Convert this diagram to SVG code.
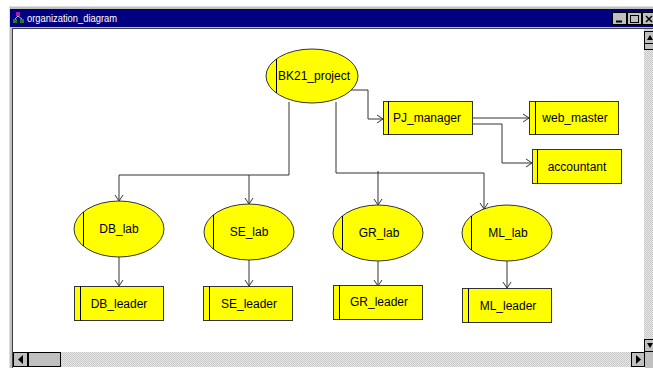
<svg xmlns="http://www.w3.org/2000/svg" width="653" height="368" viewBox="0 0 653 368">
<style>
.node{fill:#ffff00;stroke:#333;stroke-width:1}
.bar{stroke:#000;stroke-width:1}
.lbl{font-family:"Liberation Sans",Arial,sans-serif;font-size:12px;fill:#000;text-anchor:middle}
.conn{fill:none;stroke:#333;stroke-width:1}
.btn{fill:#c0c0c0;stroke:#000;stroke-width:1}
</style>
<defs>
<marker id="arr" markerWidth="8" markerHeight="10" refX="7" refY="5" orient="auto" markerUnits="userSpaceOnUse">
<path d="M1,1 L7,5 L1,9" fill="none" stroke="#333" stroke-width="1"/>
</marker>
<pattern id="chk" width="2" height="2" patternUnits="userSpaceOnUse">
<rect width="2" height="2" fill="#e8e8e8"/>
<rect width="1" height="1" fill="#c8c8c8"/>
<rect x="1" y="1" width="1" height="1" fill="#c8c8c8"/>
</pattern>
</defs>
<rect width="653" height="368" fill="#fff"/>
<!-- window frame -->
<g id="window">
<rect x="9.5" y="6.5" width="650" height="365" fill="#c0c0c0" stroke="#dfdfdf"/>
<rect x="10" y="9" width="643" height="18" fill="#000080"/>
<g id="icon">
<rect x="16" y="12" width="4" height="4" fill="#a020a0"/>
<rect x="13" y="19" width="4" height="4" fill="#208020"/>
<rect x="20" y="19" width="4" height="4" fill="#208020"/>
<path d="M18,16 L15,19 M18,16 L22,19" stroke="#c0c0c0" fill="none"/>
</g>
<text x="27" y="22" font-family="Liberation Sans,Arial,sans-serif" font-size="11" fill="#fff" textLength="90" lengthAdjust="spacingAndGlyphs">organization_diagram</text>
<rect x="612.5" y="12.5" width="14" height="12" class="btn"/>
<path d="M616,21.5 H622" stroke="#000" stroke-width="2"/>
<rect x="627.5" y="12.5" width="14" height="12" class="btn"/>
<rect x="630.5" y="15.5" width="8" height="7" fill="none" stroke="#000"/>
<rect x="642.5" y="12.5" width="14" height="12" class="btn"/>
<path d="M646,16 L652,22 M652,16 L646,22" stroke="#000" stroke-width="1.5"/>
<rect x="12.5" y="28.5" width="645" height="340" fill="#fff" stroke="#404040"/>
<rect x="644" y="29" width="9" height="323" fill="url(#chk)"/>
<rect x="644.5" y="31.5" width="12" height="12" class="btn"/>
<path d="M647,40 L650,35 L653,40 Z" fill="#000"/>
<rect x="644.5" y="43.5" width="12" height="6" class="btn"/>
<rect x="644.5" y="339.5" width="12" height="12" class="btn"/>
<path d="M647,343 L650,348 L653,343 Z" fill="#000"/>
<rect x="13" y="352" width="632" height="15" fill="url(#chk)"/>
<rect x="13.5" y="352.5" width="14" height="14" class="btn"/>
<path d="M23,355 L18,359.5 L23,364 Z" fill="#000"/>
<rect x="28.5" y="352.5" width="32" height="14" class="btn"/>
<rect x="631.5" y="352.5" width="13" height="14" class="btn"/>
<path d="M636,355 L641,359.5 L636,364 Z" fill="#000"/>
<rect x="645" y="352" width="8" height="16" fill="#c0c0c0"/>
</g>
<!-- connectors -->
<g id="connectors">
<path class="conn" d="M350,90 H368 V119 H383" marker-end="url(#arr)"/>
<path class="conn" d="M473,118 H529" marker-end="url(#arr)"/>
<path class="conn" d="M473,124 H502 V163 H532" marker-end="url(#arr)"/>
<path class="conn" d="M289,102 V175 H119 V201" marker-end="url(#arr)"/>
<path class="conn" d="M249,175 V204" marker-end="url(#arr)"/>
<path class="conn" d="M336,102 V173 H484 V209" marker-end="url(#arr)"/>
<path class="conn" d="M378,171 V205" marker-end="url(#arr)"/>
<path class="conn" d="M119,257 V286" marker-end="url(#arr)"/>
<path class="conn" d="M249,260 V286" marker-end="url(#arr)"/>
<path class="conn" d="M378,261 V286" marker-end="url(#arr)"/>
<path class="conn" d="M507,261 V288" marker-end="url(#arr)"/>
</g>
<!-- nodes -->
<g id="BK21_project">
<ellipse class="node" cx="312" cy="76" rx="46" ry="27"/>
<line class="bar" x1="276.5" y1="59" x2="276.5" y2="93"/>
<text class="lbl" x="314" y="80">BK21_project</text>
</g>
<g id="PJ_manager">
<rect class="node" x="383.5" y="101.5" width="89" height="33"/>
<line class="bar" x1="388.5" y1="101.5" x2="388.5" y2="134.5"/>
<text class="lbl" x="427" y="122">PJ_manager</text>
</g>
<g id="web_master">
<rect class="node" x="529.5" y="101.5" width="89" height="33"/>
<line class="bar" x1="535.5" y1="101.5" x2="535.5" y2="134.5"/>
<text class="lbl" x="575" y="122">web_master</text>
</g>
<g id="accountant">
<rect class="node" x="532.5" y="149.5" width="89" height="34"/>
<line class="bar" x1="537.5" y1="149.5" x2="537.5" y2="183.5"/>
<text class="lbl" x="577" y="171">accountant</text>
</g>
<g id="DB_lab">
<ellipse class="node" cx="119" cy="229" rx="45" ry="28"/>
<line class="bar" x1="83.5" y1="212" x2="83.5" y2="246"/>
<text class="lbl" x="119" y="233">DB_lab</text>
</g>
<g id="SE_lab">
<ellipse class="node" cx="249" cy="232" rx="45" ry="28"/>
<line class="bar" x1="213.5" y1="215" x2="213.5" y2="249"/>
<text class="lbl" x="249" y="236">SE_lab</text>
</g>
<g id="GR_lab">
<ellipse class="node" cx="378" cy="233" rx="45" ry="28"/>
<line class="bar" x1="342.5" y1="216" x2="342.5" y2="250"/>
<text class="lbl" x="379" y="237">GR_lab</text>
</g>
<g id="ML_lab">
<ellipse class="node" cx="507" cy="233" rx="45" ry="28"/>
<line class="bar" x1="471.5" y1="216" x2="471.5" y2="250"/>
<text class="lbl" x="508" y="237">ML_lab</text>
</g>
<g id="DB_leader">
<rect class="node" x="74.5" y="286.5" width="89" height="34"/>
<line class="bar" x1="80.5" y1="286.5" x2="80.5" y2="320.5"/>
<text class="lbl" x="119" y="308">DB_leader</text>
</g>
<g id="SE_leader">
<rect class="node" x="203.5" y="286.5" width="89" height="34"/>
<line class="bar" x1="209.5" y1="286.5" x2="209.5" y2="320.5"/>
<text class="lbl" x="249" y="308">SE_leader</text>
</g>
<g id="GR_leader">
<rect class="node" x="333.5" y="285.5" width="89" height="34"/>
<line class="bar" x1="339.5" y1="285.5" x2="339.5" y2="319.5"/>
<text class="lbl" x="379" y="306">GR_leader</text>
</g>
<g id="ML_leader">
<rect class="node" x="462.5" y="288.5" width="89" height="34"/>
<line class="bar" x1="468.5" y1="288.5" x2="468.5" y2="322.5"/>
<text class="lbl" x="508" y="310">ML_leader</text>
</g>
</svg>
